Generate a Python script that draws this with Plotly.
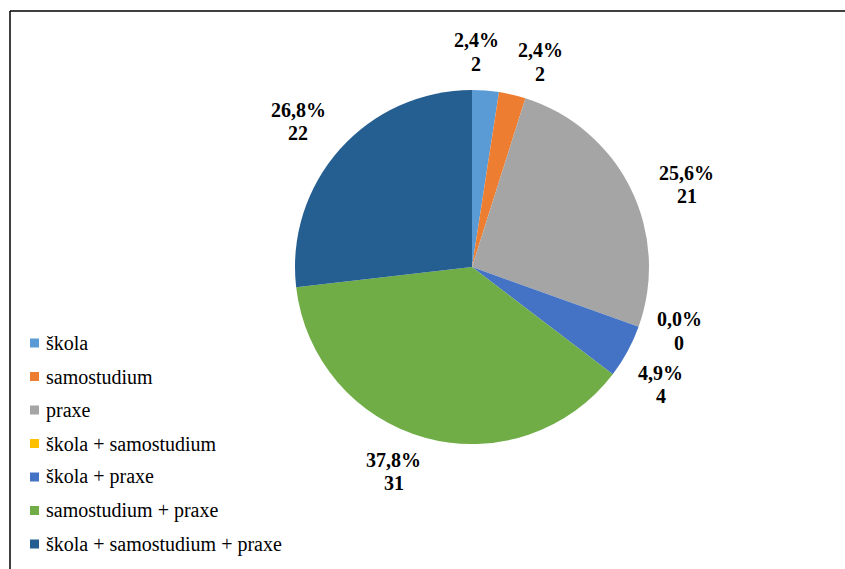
import math
import plotly.graph_objects as go

# Source of knowledge – number of respondents per answer
categories = [
    "škola",
    "samostudium",
    "praxe",
    "škola + samostudium",
    "škola + praxe",
    "samostudium + praxe",
    "škola + samostudium + praxe",
]
counts = [2, 2, 21, 0, 4, 31, 22]

colors = ["#5B9BD5", "#ED7D31", "#A5A5A5", "#FFC000", "#4472C4", "#70AD47", "#255E91"]

# Canvas and pie geometry (pixels)
W, H = 845, 569
cx, cy, R = 472, 267, 177

# Per-label fine placement: angle nudge (deg) and radial distance (x radius)
label_nudge = [-3.2, 5.2, 5.3, -2.6, 3.3, 5.6, -1.8]
label_dist = [1.215, 1.22, 1.30, 1.224, 1.256, 1.237, 1.28]
line_gap = 23.5  # px between the percentage line and the count line

# Legend layout (pixels): first row centre, row step, swatch and text x
leg_y0, leg_step = 343, 33.5
sw_x0, sw_size, txt_x = 30, 9, 44

FONT = "Liberation Serif"
FSIZE = 20

total = sum(counts)

fig = go.Figure(
    go.Pie(
        labels=categories,
        values=counts,
        sort=False,
        direction="clockwise",
        rotation=0,
        textinfo="none",
        hoverinfo="label+value+percent",
        marker=dict(colors=colors, line=dict(width=0)),
        domain=dict(
            x=[(cx - R) / W, (cx + R) / W],
            y=[(H - cy - R) / H, (H - cy + R) / H],
        ),
        showlegend=False,
    )
)

annotations = []
shapes = []


def text_at(x, y, text, anchor="center", bold=False):
    return dict(
        x=x / W, y=1 - y / H, xref="paper", yref="paper",
        text=f"<b>{text}</b>" if bold else text,
        showarrow=False, xanchor=anchor, yanchor="middle",
        font=dict(family=FONT, size=FSIZE, color="black"),
    )


# Data labels: percentage and count, placed outside each slice
cum = 0
for i, v in enumerate(counts):
    mid = (cum + v / 2) / total
    cum += v
    ang = math.radians(mid * 360 + label_nudge[i])
    d = R * label_dist[i]
    px = cx + d * math.sin(ang)
    py = cy - d * math.cos(ang)
    pct = f"{100 * v / total:.1f}".replace(".", ",")
    annotations.append(text_at(px, py - line_gap / 2, f"{pct}%", bold=True))
    annotations.append(text_at(px, py + line_gap / 2, f"{v}", bold=True))

# Legend: colour swatch and category name per row
for i, (name, col) in enumerate(zip(categories, colors)):
    yc = leg_y0 + i * leg_step
    shapes.append(
        dict(type="rect", xref="paper", yref="paper",
             x0=sw_x0 / W, x1=(sw_x0 + sw_size) / W,
             y0=1 - (yc - sw_size / 2) / H, y1=1 - (yc + sw_size / 2) / H,
             fillcolor=col, line=dict(width=0))
    )
    annotations.append(text_at(txt_x, yc, name, anchor="left"))

# Frame lines along top and left edge
shapes += [
    dict(type="line", xref="paper", yref="paper",
         x0=10 / W, y0=1 - 11 / H, x1=1, y1=1 - 11 / H,
         line=dict(color="black", width=1.5)),
    dict(type="line", xref="paper", yref="paper",
         x0=10 / W, y0=1 - 11 / H, x1=10 / W, y1=0,
         line=dict(color="black", width=1.5)),
]

fig.update_layout(
    width=W,
    height=H,
    margin=dict(l=0, r=0, t=0, b=0),
    paper_bgcolor="white",
    plot_bgcolor="white",
    annotations=annotations,
    shapes=shapes,
    showlegend=False,
)

fig.write_html("out.html")
